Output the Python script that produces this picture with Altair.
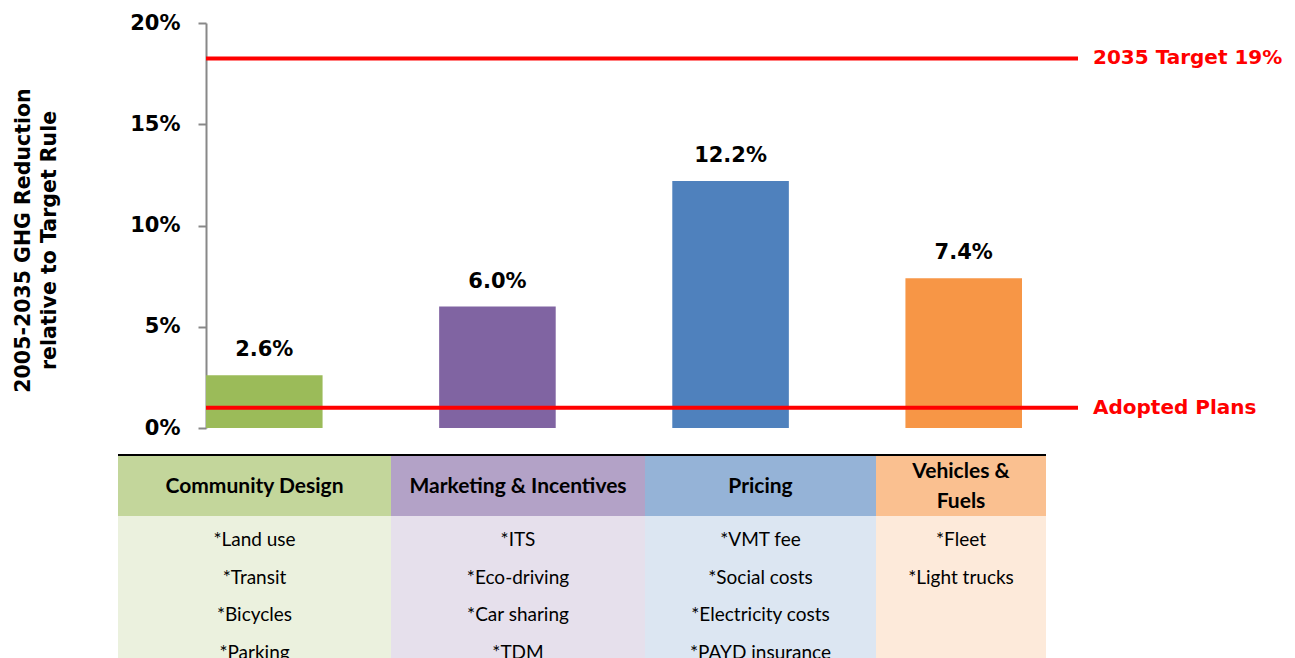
import altair as alt
import pandas as pd

# ---- data ----
categories = ["Community Design", "Marketing & Incentives", "Pricing", "Vehicles & Fuels"]
reductions = [0.026, 0.060, 0.122, 0.074]
bar_labels = ["2.6%", "6.0%", "12.2%", "7.4%"]
bar_colors = ["#9BBB59", "#8064A2", "#4F81BD", "#F79646"]

ref_names = ["2035 Target 19%", "Adopted Plans"]
ref_values = [0.1825, 0.010]

y_ticks = [0, 0.05, 0.10, 0.15, 0.20]
y_title = ["2005-2035 GHG Reduction", "relative to Target Rule"]

table_headers = [["Community Design"], ["Marketing & Incentives"], ["Pricing"], ["Vehicles &", "Fuels"]]
table_items = [
    ["*Land use", "*Transit", "*Bicycles", "*Parking"],
    ["*ITS", "*Eco-driving", "*Car sharing", "*TDM"],
    ["*VMT fee", "*Social costs", "*Electricity costs", "*PAYD insurance"],
    ["*Fleet", "*Light trucks"],
]
header_colors = ["#C3D69B", "#B3A2C7", "#95B3D7", "#FAC090"]
body_colors = ["#EBF1DE", "#E6E0EC", "#DCE6F2", "#FDEADA"]

# ---- layout (pixels) ----
W, H = 816, 405
col_widths = [273, 254, 231, 170]
table_left = -88
table_total = sum(col_widths)
AX_FONT = "DejaVu Sans"
TB_FONT = "Lato"

bars_df = pd.DataFrame({"category": categories, "value": reductions, "label": bar_labels})
ref_df = pd.DataFrame({"name": ref_names, "value": ref_values})

starts = [sum(col_widths[:i]) for i in range(len(col_widths))]
cols_df = pd.DataFrame({
    "x0": starts,
    "x1": [s + w for s, w in zip(starts, col_widths)],
    "hfill": header_colors,
    "bfill": body_colors,
})
cols_df["xc"] = (cols_df["x0"] + cols_df["x1"]) / 2

head_rows = []
for ci, lines in enumerate(table_headers):
    n = len(lines)
    for li, ln in enumerate(lines):
        head_rows.append({"text": ln, "line": li - (n - 1) / 2, "xc": cols_df.loc[ci, "xc"]})
head_df = pd.DataFrame(head_rows)

items_rows = []
for ci, items in enumerate(table_items):
    for ri, it in enumerate(items):
        items_rows.append({"item": it, "row": ri, "xc": cols_df.loc[ci, "xc"]})
items_df = pd.DataFrame(items_rows)
top_df = pd.DataFrame({"x0": [0], "x1": [table_total]})

x_band = alt.X("category:N", sort=categories, axis=None,
               scale=alt.Scale(paddingInner=0.5, paddingOuter=0))
y_lin = alt.Y("value:Q", scale=alt.Scale(domain=[0, 0.2], nice=False),
              axis=alt.Axis(values=y_ticks, format=".0%", title=y_title,
                            titleFont=AX_FONT, titleFontSize=20.5, titleFontWeight="bold",
                            titleColor="black", titleAngle=270, titleX=-173, titleY=217,
                            titleAlign="center", titleBaseline="bottom", titleLineHeight=26,
                            labelFont=AX_FONT, labelFontSize=21, labelFontWeight="bold",
                            labelColor="black", labelPadding=18, tickSize=8, tickWidth=2,
                            tickColor="#888888", domainColor="#888888", domainWidth=2,
                            grid=False))

bars = alt.Chart(bars_df).mark_bar().encode(
    x=x_band, y=y_lin,
    color=alt.Color("category:N", scale=alt.Scale(domain=categories, range=bar_colors), legend=None),
)
bar_text = alt.Chart(bars_df).mark_text(
    font=AX_FONT, fontSize=21, fontWeight="bold", color="black", dy=-25, baseline="middle"
).encode(x=x_band, y=alt.Y("value:Q"), text="label:N")

rules = alt.Chart(ref_df).mark_rule(color="#FF0000", strokeWidth=4).encode(
    y=alt.Y("value:Q"), x=alt.value(0), x2=alt.value(872))
rule_text = alt.Chart(ref_df).mark_text(
    font=AX_FONT, fontSize=20, fontWeight="bold", color="#FF0000", align="left", baseline="middle"
).encode(y=alt.Y("value:Q"), x=alt.value(887), text="name:N")

top_chart = alt.layer(bars, bar_text, rules, rule_text)

tx = alt.Scale(domain=[0, table_total], range=[table_left, table_left + table_total])
head_rect = alt.Chart(cols_df).mark_rect().encode(
    x=alt.X("x0:Q", scale=tx, axis=None), x2="x1:Q",
    y=alt.value(433), y2=alt.value(493), color=alt.Color("hfill:N", scale=None))
body_rect = alt.Chart(cols_df).mark_rect().encode(
    x=alt.X("x0:Q", scale=tx, axis=None), x2="x1:Q",
    y=alt.value(493), y2=alt.value(660), color=alt.Color("bfill:N", scale=None))
top_line = alt.Chart(top_df).mark_rule(color="black", strokeWidth=2).encode(
    x=alt.X("x0:Q", scale=tx, axis=None), x2="x1:Q", y=alt.value(432))
head_text = alt.Chart(head_df).mark_text(
    font=TB_FONT, fontSize=21, fontWeight="bold", color="black", baseline="middle"
).encode(x=alt.X("xc:Q", scale=tx, axis=None),
         y=alt.Y("line:Q", scale=alt.Scale(domain=[-1, 1], range=[434, 494]), axis=None),
         text="text:N")
body_text = alt.Chart(items_df).mark_text(
    font=TB_FONT, fontSize=19, color="black", baseline="middle"
).encode(x=alt.X("xc:Q", scale=tx, axis=None),
         y=alt.Y("row:Q", scale=alt.Scale(domain=[0, 3], range=[517, 630]), axis=None),
         text="item:N")

table = alt.layer(head_rect, body_rect, top_line, head_text, body_text).resolve_scale(
    y="independent")

chart = alt.layer(top_chart, table).resolve_scale(
    x="independent", y="independent", color="independent"
).properties(
    width=W, height=H,
    autosize=alt.AutoSizeParams(type="none"),
    padding={"left": 198, "top": 15, "right": 262, "bottom": 242},
).configure_view(stroke=None)

chart.save("out.html", embed_options={"renderer": "svg", "actions": False})
